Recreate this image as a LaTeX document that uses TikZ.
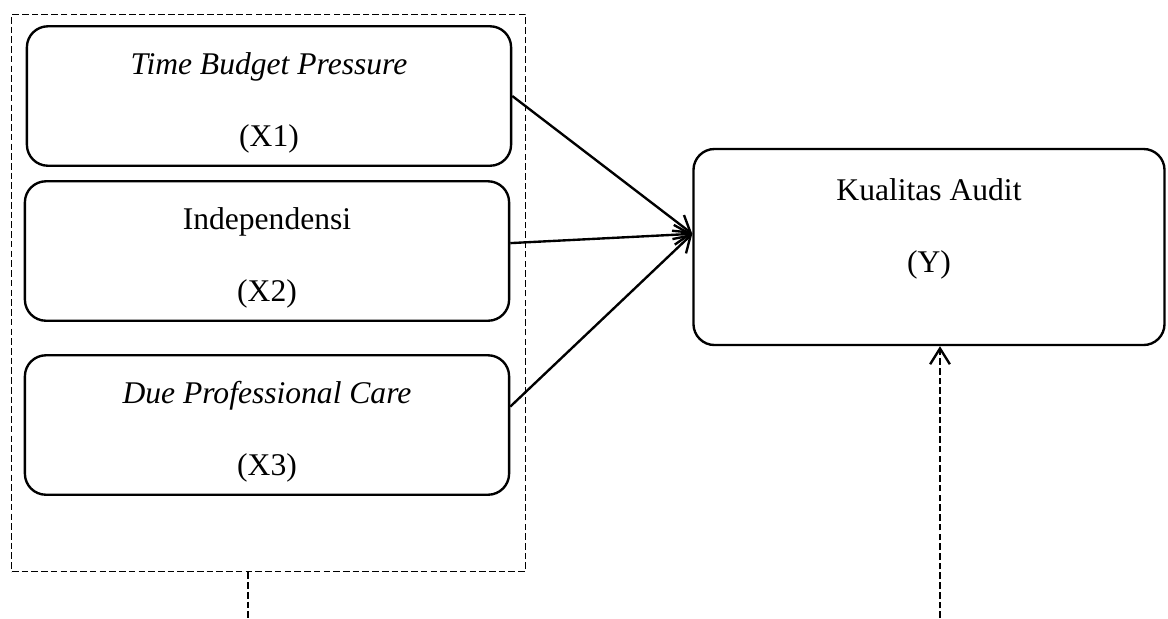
\documentclass[tikz,border=0pt]{standalone}
\usepackage{fontspec}
\setmainfont{Liberation Serif}
\usetikzlibrary{arrows.meta,calc}
\tikzset{
  varbox/.style={draw,line width=0.9pt,rounded corners=8pt,
    minimum width=184pt,minimum height=53pt},
  vartext/.style={align=center,font=\fontsize{12}{14.5}\selectfont},
  grouping/.style={draw,thin,dash pattern=on 2.5pt off 1.2pt},
  link/.style={line width=0.9pt,-{Straight Barb[length=6pt,width=7.5pt]}},
}
\begin{document}
\begin{tikzpicture}[x=0.38pt,y=-0.38pt]
  \useasboundingbox (0,0) rectangle (1168,618);
  %% dashed frame
  \node[grouping,minimum width=195pt,minimum height=212pt] (grp) at (268.5,293) {};
  %% independent variables
  \node[varbox] (x1) at (269,96) {};
  \node[varbox] (x2) at (267,251) {};
  \node[varbox] (x3) at (267,425) {};
  \node[vartext] (x1txt) at ([yshift=-2.5pt]x1.center) {\textit{Time Budget Pressure}\\[13pt](X1)};
  \node[vartext] (x2txt) at ([yshift=-2.5pt]x2.center) {Independensi\\[13pt](X2)};
  \node[vartext] (x3txt) at ([yshift=-2.5pt]x3.center) {\textit{Due Professional Care}\\[13pt](X3)};
  %% dependent variable
  \node[varbox,minimum width=179pt,minimum height=74.5pt] (y) at (929,247) {};
  \node[vartext] (ytxt) at ([yshift=7pt]y.center) {Kualitas Audit\\[13pt](Y)};
  %% arrows
  \coordinate (yin) at ([yshift=5pt]y.west);
  \draw[link] (x1.east) -- (yin);
  \draw[link] ([yshift=3pt]x2.east) -- (yin);
  \draw[link] ([yshift=7pt]x3.east) -- (yin);
  %% dashed leads at the bottom
  \coordinate (grpend) at (248,618);
  \coordinate (yfrom) at (940,618);
  \draw[grouping] (grp.south -| grpend) -- (grpend);
  \draw[grouping,-{Straight Barb[length=6pt,width=7.5pt,line width=0.9pt]}] (yfrom) -- (y.south -| yfrom);
\end{tikzpicture}
\end{document}
